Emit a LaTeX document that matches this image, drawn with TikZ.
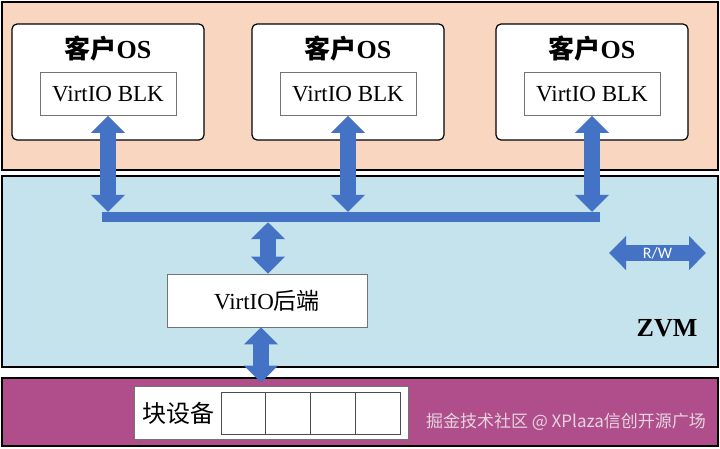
\documentclass[tikz,border=0pt]{standalone}
\usepackage{fontspec}
\setmainfont{Liberation Serif}
\newfontfamily\cjk{Noto Sans CJK SC}
\newfontfamily\rwfont{Carlito}
\usepackage{tikz}
\usetikzlibrary{arrows.meta, positioning, calc}
\definecolor{guestbg}{RGB}{248, 214, 192}
\definecolor{zvmbg}{RGB}{197, 227, 236}
\definecolor{devbg}{RGB}{176, 78, 140}
\definecolor{arrowblue}{RGB}{68, 114, 196}
\definecolor{markgray}{RGB}{228, 212, 224}
\newcommand{\boxfont}{\fontsize{23pt}{25pt}\selectfont}
\newcommand{\titlefont}{\fontsize{26pt}{28pt}\selectfont\bfseries}

\begin{document}
\begin{tikzpicture}[x=1pt, y=-1pt, inner sep=0pt,
    band/.style={draw=black, line width=1.2pt},
    guestbox/.style={draw=black, line width=1.2pt, fill=white, rounded corners=5pt, minimum width=192pt, minimum height=116pt},
    whitebox/.style={draw=black!55, line width=0.8pt, fill=white},
    dblarrow/.style={arrowblue, line width=16pt, {Triangle[width=33pt,length=17pt]}-{Triangle[width=33pt,length=17pt]}}]
    \useasboundingbox (0,0) rectangle (720,448);

    % Layers: guests, hypervisor, device
    \node [band, fill=guestbg, minimum width=716pt, minimum height=168pt] (guestband) at (360,86) {};
    \node [band, fill=zvmbg, minimum width=716pt, minimum height=191pt] (zvmband) at (360,271.5) {};
    \node [band, fill=devbg, minimum width=716pt, minimum height=68pt] (devband) at (360,412) {};

    % Shared bus inside ZVM
    \node [fill=arrowblue, minimum width=498pt, minimum height=10pt] (bus) at (351,217) {};

    % Guest OS boxes with their VirtIO BLK front ends
    \foreach \g/\x in {A/108, B/348, C/592} {
        \node [guestbox] (guest\g) at (\x,82) {};
        \node [font=\titlefont] (title\g) at (\x,49) {{\cjk 客户}OS};
        \node [whitebox, minimum width=136pt, minimum height=43pt, font=\boxfont] (blk\g) at (\x,94) {VirtIO BLK};
        \draw [dblarrow] (blk\g.south) -- (blk\g.south |- bus.north);
    }

    % Backend and block device
    \node [whitebox, minimum width=200pt, minimum height=53pt, font=\boxfont] (backend) at (267,300.5) {VirtIO{\cjk 后端}};
    \node [whitebox, minimum width=274pt, minimum height=53pt] (blockdev) at (271,412.5) {};
    \node [font=\fontsize{24pt}{26pt}\selectfont] (devlabel) at (178,413) {\cjk 块设备};
    \foreach \i in {0,...,3}
        \node [whitebox, draw=black!70, minimum width=44.75pt, minimum height=42pt] (cell\i) at (243.4+44.75*\i,413) {};

    \draw [dblarrow] ([xshift=1pt]backend.north) -- ([xshift=1pt]backend.north |- bus.south);
    \draw [dblarrow] ([xshift=-6pt]backend.south) -- ([xshift=-6pt,yshift=3pt]backend.south |- blockdev.north);

    % R/W legend and labels
    \coordinate (rwL) at (609,253);
    \coordinate (rwR) at (706,253);
    \draw [dblarrow] (rwL) -- node [text=white, font=\rwfont\fontsize{16pt}{16pt}\selectfont] {R/W} (rwR);

    \node [font=\fontsize{26pt}{26pt}\selectfont\bfseries, anchor=base] (zvm) at (667,336) {ZVM};
    \node [font=\cjk\fontsize{17pt}{17pt}\selectfont, text=markgray, anchor=east] (mark) at (706,422) {掘金技术社区 @ XPlaza信创开源广场};
\end{tikzpicture}
\end{document}
